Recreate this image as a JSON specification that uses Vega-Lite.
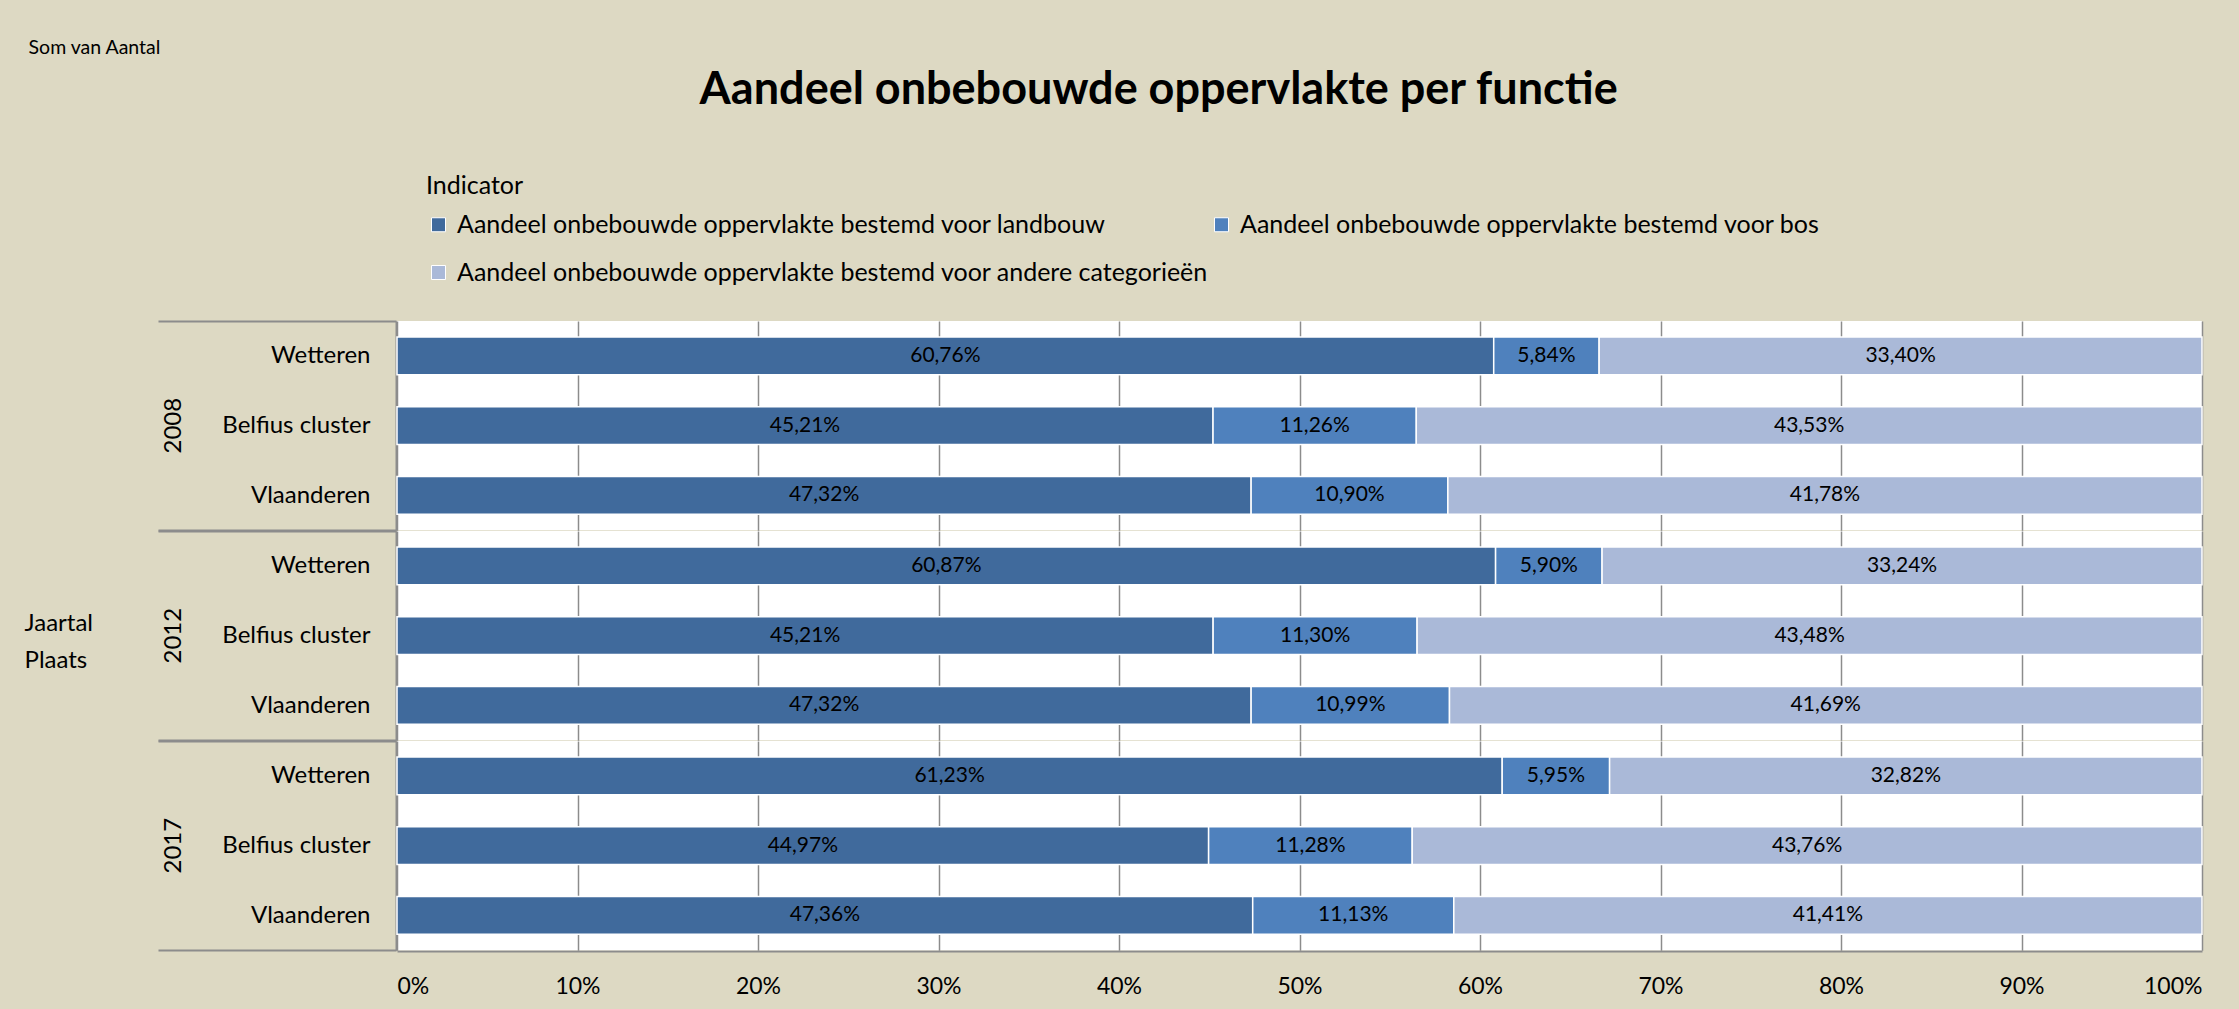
{
  "$schema": "https://vega.github.io/schema/vega-lite/v6.json",
  "background": "#DDD9C3",
  "padding": {"left": 24, "top": 37, "right": 60, "bottom": 30},
  "title": {
    "text": "Som van Aantal",
    "anchor": "start",
    "frame": "bounds",
    "font": "Lato",
    "fontSize": 19.5,
    "fontWeight": "normal",
    "color": "black",
    "offset": 10,
    "dx": 4
  },
  "datasets": {
    "aandelen": [
      {"Jaartal": "2008", "Plaats": "Wetteren", "Indicator": "Aandeel onbebouwde oppervlakte bestemd voor landbouw", "Aandeel": 0.6076},
      {"Jaartal": "2008", "Plaats": "Wetteren", "Indicator": "Aandeel onbebouwde oppervlakte bestemd voor bos", "Aandeel": 0.0584},
      {"Jaartal": "2008", "Plaats": "Wetteren", "Indicator": "Aandeel onbebouwde oppervlakte bestemd voor andere categorieën", "Aandeel": 0.3340},
      {"Jaartal": "2008", "Plaats": "Belfius cluster", "Indicator": "Aandeel onbebouwde oppervlakte bestemd voor landbouw", "Aandeel": 0.4521},
      {"Jaartal": "2008", "Plaats": "Belfius cluster", "Indicator": "Aandeel onbebouwde oppervlakte bestemd voor bos", "Aandeel": 0.1126},
      {"Jaartal": "2008", "Plaats": "Belfius cluster", "Indicator": "Aandeel onbebouwde oppervlakte bestemd voor andere categorieën", "Aandeel": 0.4353},
      {"Jaartal": "2008", "Plaats": "Vlaanderen", "Indicator": "Aandeel onbebouwde oppervlakte bestemd voor landbouw", "Aandeel": 0.4732},
      {"Jaartal": "2008", "Plaats": "Vlaanderen", "Indicator": "Aandeel onbebouwde oppervlakte bestemd voor bos", "Aandeel": 0.1090},
      {"Jaartal": "2008", "Plaats": "Vlaanderen", "Indicator": "Aandeel onbebouwde oppervlakte bestemd voor andere categorieën", "Aandeel": 0.4178},
      {"Jaartal": "2012", "Plaats": "Wetteren", "Indicator": "Aandeel onbebouwde oppervlakte bestemd voor landbouw", "Aandeel": 0.6087},
      {"Jaartal": "2012", "Plaats": "Wetteren", "Indicator": "Aandeel onbebouwde oppervlakte bestemd voor bos", "Aandeel": 0.0590},
      {"Jaartal": "2012", "Plaats": "Wetteren", "Indicator": "Aandeel onbebouwde oppervlakte bestemd voor andere categorieën", "Aandeel": 0.3324},
      {"Jaartal": "2012", "Plaats": "Belfius cluster", "Indicator": "Aandeel onbebouwde oppervlakte bestemd voor landbouw", "Aandeel": 0.4521},
      {"Jaartal": "2012", "Plaats": "Belfius cluster", "Indicator": "Aandeel onbebouwde oppervlakte bestemd voor bos", "Aandeel": 0.1130},
      {"Jaartal": "2012", "Plaats": "Belfius cluster", "Indicator": "Aandeel onbebouwde oppervlakte bestemd voor andere categorieën", "Aandeel": 0.4348},
      {"Jaartal": "2012", "Plaats": "Vlaanderen", "Indicator": "Aandeel onbebouwde oppervlakte bestemd voor landbouw", "Aandeel": 0.4732},
      {"Jaartal": "2012", "Plaats": "Vlaanderen", "Indicator": "Aandeel onbebouwde oppervlakte bestemd voor bos", "Aandeel": 0.1099},
      {"Jaartal": "2012", "Plaats": "Vlaanderen", "Indicator": "Aandeel onbebouwde oppervlakte bestemd voor andere categorieën", "Aandeel": 0.4169},
      {"Jaartal": "2017", "Plaats": "Wetteren", "Indicator": "Aandeel onbebouwde oppervlakte bestemd voor landbouw", "Aandeel": 0.6123},
      {"Jaartal": "2017", "Plaats": "Wetteren", "Indicator": "Aandeel onbebouwde oppervlakte bestemd voor bos", "Aandeel": 0.0595},
      {"Jaartal": "2017", "Plaats": "Wetteren", "Indicator": "Aandeel onbebouwde oppervlakte bestemd voor andere categorieën", "Aandeel": 0.3282},
      {"Jaartal": "2017", "Plaats": "Belfius cluster", "Indicator": "Aandeel onbebouwde oppervlakte bestemd voor landbouw", "Aandeel": 0.4497},
      {"Jaartal": "2017", "Plaats": "Belfius cluster", "Indicator": "Aandeel onbebouwde oppervlakte bestemd voor bos", "Aandeel": 0.1128},
      {"Jaartal": "2017", "Plaats": "Belfius cluster", "Indicator": "Aandeel onbebouwde oppervlakte bestemd voor andere categorieën", "Aandeel": 0.4376},
      {"Jaartal": "2017", "Plaats": "Vlaanderen", "Indicator": "Aandeel onbebouwde oppervlakte bestemd voor landbouw", "Aandeel": 0.4736},
      {"Jaartal": "2017", "Plaats": "Vlaanderen", "Indicator": "Aandeel onbebouwde oppervlakte bestemd voor bos", "Aandeel": 0.1113},
      {"Jaartal": "2017", "Plaats": "Vlaanderen", "Indicator": "Aandeel onbebouwde oppervlakte bestemd voor andere categorieën", "Aandeel": 0.4141}
    ]
  },
  "vconcat": [
    {
      "data": {"name": "aandelen"},
      "title": {
        "text": "Aandeel onbebouwde oppervlakte per functie",
        "font": "Lato",
        "fontSize": 45,
        "fontWeight": "bold",
        "color": "black",
        "anchor": "middle",
        "offset": 196,
        "dx": 45
      },
      "spacing": {"row": 0},
      "facet": {
        "row": {
          "field": "Jaartal",
          "type": "ordinal",
          "title": ["Jaartal", "Plaats", "\u00a0", "\u00a0", "\u00a0"],
          "header": {
            "labelAngle": -90,
            "labelFont": "Lato",
            "labelFontSize": 24,
            "labelColor": "black",
            "labelPadding": -41,
            "titleOrient": "left",
            "titleAngle": 0,
            "titleAlign": "left",
            "titleAnchor": "middle",
            "titleBaseline": "bottom",
            "titleFont": "Lato",
            "titleFontSize": 24,
            "titleFontWeight": "normal",
            "titleColor": "black",
            "titleLineHeight": 37,
            "titlePadding": 54
          }
        }
      },
      "spec": {
        "width": 1805,
        "height": 209.3,
        "encoding": {
          "y": {
            "field": "Plaats",
            "type": "nominal",
            "sort": ["Wetteren", "Belfius cluster", "Vlaanderen"],
            "scale": {"paddingInner": 0, "paddingOuter": 0},
            "axis": {
              "title": null,
              "labelFont": "Lato",
              "labelFontSize": 24,
              "labelColor": "black",
              "labelPadding": -212,
              "tickBand": "extent",
              "tickSize": 238,
              "tickColor": "#8C8C8C",
              "tickWidth": 2,
              "tickOpacity": {"condition": {"test": "datum.value !== 'Wetteren' && datum.value !== 'Belfius cluster'", "value": 1}, "value": 0},
              "domainColor": "#8C8C8C",
              "domainWidth": 2
            }
          }
        },
        "layer": [
          {
            "mark": {"type": "bar", "stroke": "white", "strokeWidth": 1.5, "height": {"band": 0.54}},
            "encoding": {
              "x": {
                "field": "Aandeel",
                "type": "quantitative",
                "stack": "normalize",
                "scale": {"domain": [0, 1], "nice": false},
                "axis": {
                  "title": null,
                  "format": ".0%",
                  "values": [0, 0.1, 0.2, 0.3, 0.4, 0.5, 0.6, 0.7, 0.8, 0.9, 1],
                  "labelFont": "Lato",
                  "labelFontSize": 23,
                  "labelColor": "black",
                  "labelPadding": 24,
                  "ticks": false,
                  "domainColor": "#8C8C8C",
                  "domainWidth": 2,
                  "grid": true,
                  "gridColor": "#8C8C8C",
                  "gridWidth": 1.5
                }
              },
              "color": {
                "field": "Indicator",
                "type": "nominal",
                "scale": {
                  "domain": [
                    "Aandeel onbebouwde oppervlakte bestemd voor landbouw",
                    "Aandeel onbebouwde oppervlakte bestemd voor bos",
                    "Aandeel onbebouwde oppervlakte bestemd voor andere categorieën"
                  ],
                  "range": ["#406A9C", "#4F81BD", "#AAB9D8"]
                },
                "legend": {
                  "orient": "none",
                  "direction": "horizontal",
                  "legendX": 29,
                  "legendY": -147,
                  "columns": 2,
                  "title": "Indicator",
                  "titleFont": "Lato",
                  "titleFontSize": 25,
                  "titleFontWeight": "normal",
                  "titleColor": "black",
                  "titlePadding": 13,
                  "labelFont": "Lato",
                  "labelFontSize": 25,
                  "labelColor": "black",
                  "labelLimit": 0,
                  "labelOffset": 6,
                  "symbolType": "square",
                  "symbolSize": 196,
                  "symbolStrokeColor": "white",
                  "symbolStrokeWidth": 1,
                  "rowPadding": 22,
                  "columnPadding": 0
                }
              },
              "order": {"field": "Indicator", "sort": "descending"}
            }
          },
          {
            "mark": {"type": "text", "font": "Lato", "fontSize": 21, "color": "black"},
            "encoding": {
              "x": {"field": "Aandeel", "type": "quantitative", "stack": "normalize", "bandPosition": 0.5},
              "detail": {"field": "Indicator", "type": "nominal"},
              "order": {"field": "Indicator", "sort": "descending"},
              "text": {"field": "Aandeel", "type": "quantitative", "format": ".2%"}
            }
          }
        ]
      }
    }
  ],
  "config": {
    "locale": {
      "number": {"decimal": ",", "thousands": ".", "grouping": [3], "currency": ["", " €"]}
    },
    "view": {"fill": "white", "stroke": null},
    "font": "Lato"
  }
}
